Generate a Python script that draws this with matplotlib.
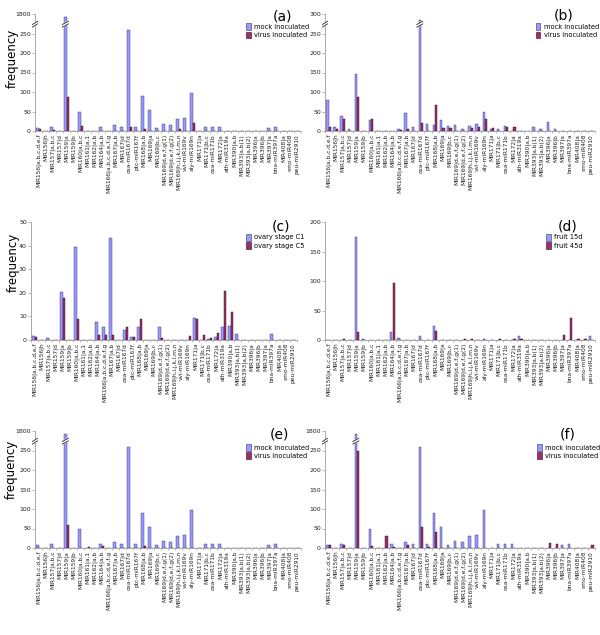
import numpy as np
import matplotlib
matplotlib.use('Agg')
from matplotlib import pyplot as plt
from matplotlib.patches import Patch

# miRNA families along the x axis (same for all panels)
mirnas = ['MIR156|a,b,c,d,e,f', 'MIR156|h', 'MIR157|a,b,c', 'MIR157|d', 'MIR159|a',
          'MIR159|b', 'MIR160|a,b,c', 'MIR161|a,1', 'MIR162|a,b', 'MIR164|a,b',
          'MIR166|a,b,c,d,e,f,g', 'MIR167|a,b', 'MIR167|d', 'osa-miR167d', 'ptc-miR167f',
          'MIR168|a,b', 'MIR169|a', 'MIR169|b,c', 'MIR169|d,e,f,g(1)', 'MIR169|d,e,f,g(2)',
          'MIR169|h,i,j,k,l,m,n', 'vvi-miR169v', 'aly-miR169n', 'MIR171|a', 'MIR171|b,c',
          'osa-miR171b', 'MIR172|a', 'ath-miR319a', 'MIR390|a,b', 'MIR393|a,b(1)',
          'MIR393|a,b(2)', 'MIR396|a', 'MIR396|b', 'MIR397|a', 'bna-miR397a',
          'MIR408|a', 'smo-miR408', 'peu-miR2910']

# values (one entry per miRNA above)
mock_a = [7, 0, 10, 0, 1400, 1, 48, 0, 0, 10, 1, 16, 10, 260, 10, 91, 53, 8, 18, 15,
          31, 33, 97, 1, 10, 10, 10, 0, 0, 0, 0, 0, 0, 7, 10, 0, 0, 0]
virus_a = [5, 1, 3, 0, 87, 0, 13, 0, 0, 0, 1, 0, 1, 10, 0, 5, 0, 0, 0, 0,
           5, 0, 20, 0, 0, 0, 0, 0, 0, 0, 0, 0, 0, 0, 0, 0, 0, 0]

mock_b = [80, 11, 38, 4, 147, 1, 28, 1, 1, 1, 6, 47, 10, 285, 17, 15, 27, 14, 16, 4,
          14, 17, 49, 6, 4, 13, 1, 0, 0, 9, 6, 24, 6, 0, 0, 0, 0, 0]
virus_b = [9, 6, 30, 0, 87, 0, 31, 1, 1, 1, 3, 6, 1, 20, 0, 67, 7, 7, 0, 0,
           8, 10, 30, 8, 0, 9, 9, 0, 0, 0, 0, 0, 0, 0, 0, 1, 1, 0]

c1 = [1.5, 0, 1.0, 0, 20.3, 0.2, 39.5, 0, 0.2, 7.5, 5.3, 43.3, 0, 4.3, 1.2, 5.3, 0, 0, 5.3, 0,
      0, 0, 0, 9.2, 0, 0.5, 1.2, 5.3, 6.0, 2.7, 0.2, 0, 0.2, 0, 2.7, 0, 0, 0]
c5 = [1.3, 0, 0, 0, 18.0, 0, 9.0, 0, 0, 2.0, 2.0, 2.0, 0, 5.3, 1.3, 9.0, 0, 0, 0.7, 0,
      0, 0, 1.5, 9.0, 2.0, 0.7, 2.8, 20.8, 11.8, 0, 0, 0, 0, 0, 0, 0, 0, 0]

fruit15 = [0, 0, 0, 0, 175, 2, 0, 0, 0, 14, 3, 0, 0, 6, 0, 24, 0, 0, 0, 0,
           0, 0, 1, 0, 0, 0, 0, 6, 0, 0, 0, 0, 0, 0, 0, 0, 0, 7]
fruit45 = [0, 0, 1, 0, 13, 0, 0, 0, 0, 97, 0, 0, 0, 0, 0, 15, 0, 0, 0, 1,
           1, 0, 0, 0, 1, 0, 1, 2, 0, 0, 0, 0, 0, 9, 38, 1, 1, 0]

virus_e = [0, 0, 0, 0, 58, 0, 0, 3, 0, 5, 0, 0, 0, 0, 0, 5, 0, 0, 0, 0,
           0, 0, 0, 0, 0, 0, 0, 0, 0, 0, 0, 0, 0, 0, 0, 0, 0, 0]
virus_f = [7, 0, 7, 0, 250, 0, 5, 0, 31, 3, 0, 8, 0, 53, 2, 40, 0, 0, 0, 0,
           0, 0, 0, 0, 0, 0, 0, 0, 0, 0, 0, 13, 10, 0, 0, 0, 0, 7]

BLUE = '#9999ff'
RED = '#993366'
W, H = 600, 635


def fwd(y):
    y = np.asarray(y, float)
    return np.where(y <= 270, y, 270 + (y - 270) * 30 / 1530)


def inv(u):
    u = np.asarray(u, float)
    return np.where(u <= 270, u, 270 + (u - 270) * 1530 / 30)


def break_mark(ax, xa, ya, wpx, hpx, half=3.0):
    # two short slanted lines with a white gap, drawn in axes fraction
    dx = half / wpx
    dy = 1.6 / hpx
    g = 1.3 / hpx
    ax.fill([xa - dx, xa + dx, xa + dx, xa - dx],
            [ya - dy - g, ya + dy - g, ya + dy + g, ya - dy + g],
            color='white', transform=ax.transAxes, clip_on=False, zorder=5)
    for s in (-g, g):
        ax.plot([xa - dx, xa + dx], [ya - dy + s, ya + dy + s], color='#222222',
                lw=0.6, transform=ax.transAxes, clip_on=False, zorder=6)


def panel(rect, s1, s2, names, letter, yticks, broken, lbl_pos, leg_pos, ylabel=None,
          tall=None):
    l, t, r, b = rect
    ax = fig.add_axes([l / W, 1 - b / H, (r - l) / W, (b - t) / H])
    x = np.arange(len(mirnas))
    bw = 0.32
    ax.bar(x - bw / 2, s1, bw, color=BLUE, edgecolor='#333366', lw=0.3, label=names[0])
    ax.bar(x + bw / 2, s2, bw, color=RED, edgecolor='#330022', lw=0.3, label=names[1])
    if broken:
        ax.set_yscale('function', functions=(fwd, inv))
    ax.set_ylim(yticks[0], yticks[-1])
    ax.set_xlim(-0.5, len(mirnas) - 0.5)
    ax.set_yticks(yticks)
    ax.set_yticklabels([str(v) for v in yticks])
    ax.set_xticks(x)
    ax.set_xticklabels(mirnas, rotation=90, fontsize=4.2, color='#222222')
    ax.set_xticks(np.arange(-0.5, len(mirnas)), minor=True)
    ax.tick_params(axis='x', which='major', length=0, pad=2)
    ax.tick_params(axis='x', which='minor', length=1.5, width=0.4, color='#888888')
    ax.tick_params(axis='y', length=2, width=0.4, labelsize=4.5, pad=1, color='#888888',
                   labelcolor='#222222')
    for sp in ('top', 'right'):
        ax.spines[sp].set_visible(False)
    for sp in ('left', 'bottom'):
        ax.spines[sp].set_linewidth(0.5)
        ax.spines[sp].set_color('#888888')
    wpx, hpx = r - l, b - t
    if tall is not None:
        yb = 0.913
        break_mark(ax, 0, yb, wpx, hpx, half=2.5)
        xa = (tall + 0.5) / len(mirnas) - bw / 2 / len(mirnas)
        break_mark(ax, xa, yb, wpx, hpx, half=3.0)
    ax.text(lbl_pos[0], lbl_pos[1], letter, transform=ax.transAxes, fontsize=10,
            ha='center', va='center')
    handles = [Patch(facecolor=BLUE, edgecolor='#333366', lw=0.4, label=names[0]),
               Patch(facecolor=RED, edgecolor='#330022', lw=0.4, label=names[1])]
    ax.legend(handles=handles, loc='upper left', bbox_to_anchor=leg_pos, fontsize=4.8,
              frameon=False, handlelength=0.7, handleheight=1.2, handletextpad=0.5,
              labelspacing=0.2, borderpad=0, borderaxespad=0)
    if ylabel:
        ax.text(ylabel[0], ylabel[1], 'frequency', transform=ax.transAxes, rotation=90,
                fontsize=8.5, ha='center', va='center')
    return ax


fig = plt.figure(figsize=(6, 6.35), dpi=100)

brk_ticks = [0, 50, 100, 150, 200, 250, 1800]
mock_names = ['mock inoculated', 'virus inoculated']

panel((35, 14, 301, 131), mock_a, virus_a, mock_names, '(a)', brk_ticks, True,
      (0.93, 0.975), (0.795, 0.92), ylabel=(-0.085, 0.62), tall=4)
panel((325, 14, 595, 131), mock_b, virus_b, mock_names, '(b)', [0, 50, 100, 150, 200, 250, 300],
      False, (0.885, 0.99), (0.78, 0.92), tall=13)
panel((31, 222, 297, 340), c1, c5, ['ovary stage C1', 'ovary stage C5'], '(c)',
      [0, 10, 20, 30, 40, 50], False, (0.94, 0.96), (0.81, 0.9), ylabel=(-0.065, 0.66))
panel((325, 222, 595, 340), fruit15, fruit45, ['fruit 15d', 'fruit 45d'], '(d)',
      [0, 50, 100, 150, 200], False, (0.9, 0.96), (0.82, 0.9))
panel((35, 431, 301, 548), mock_a, virus_e, mock_names, '(e)', brk_ticks, True,
      (0.92, 0.97), (0.795, 0.89), ylabel=(-0.09, 0.67), tall=4)
panel((325, 431, 595, 548), mock_a, virus_f, mock_names, '(f)', brk_ticks, True,
      (0.9, 0.97), (0.785, 0.89), tall=4)

fig.savefig('out.png', dpi=100)
